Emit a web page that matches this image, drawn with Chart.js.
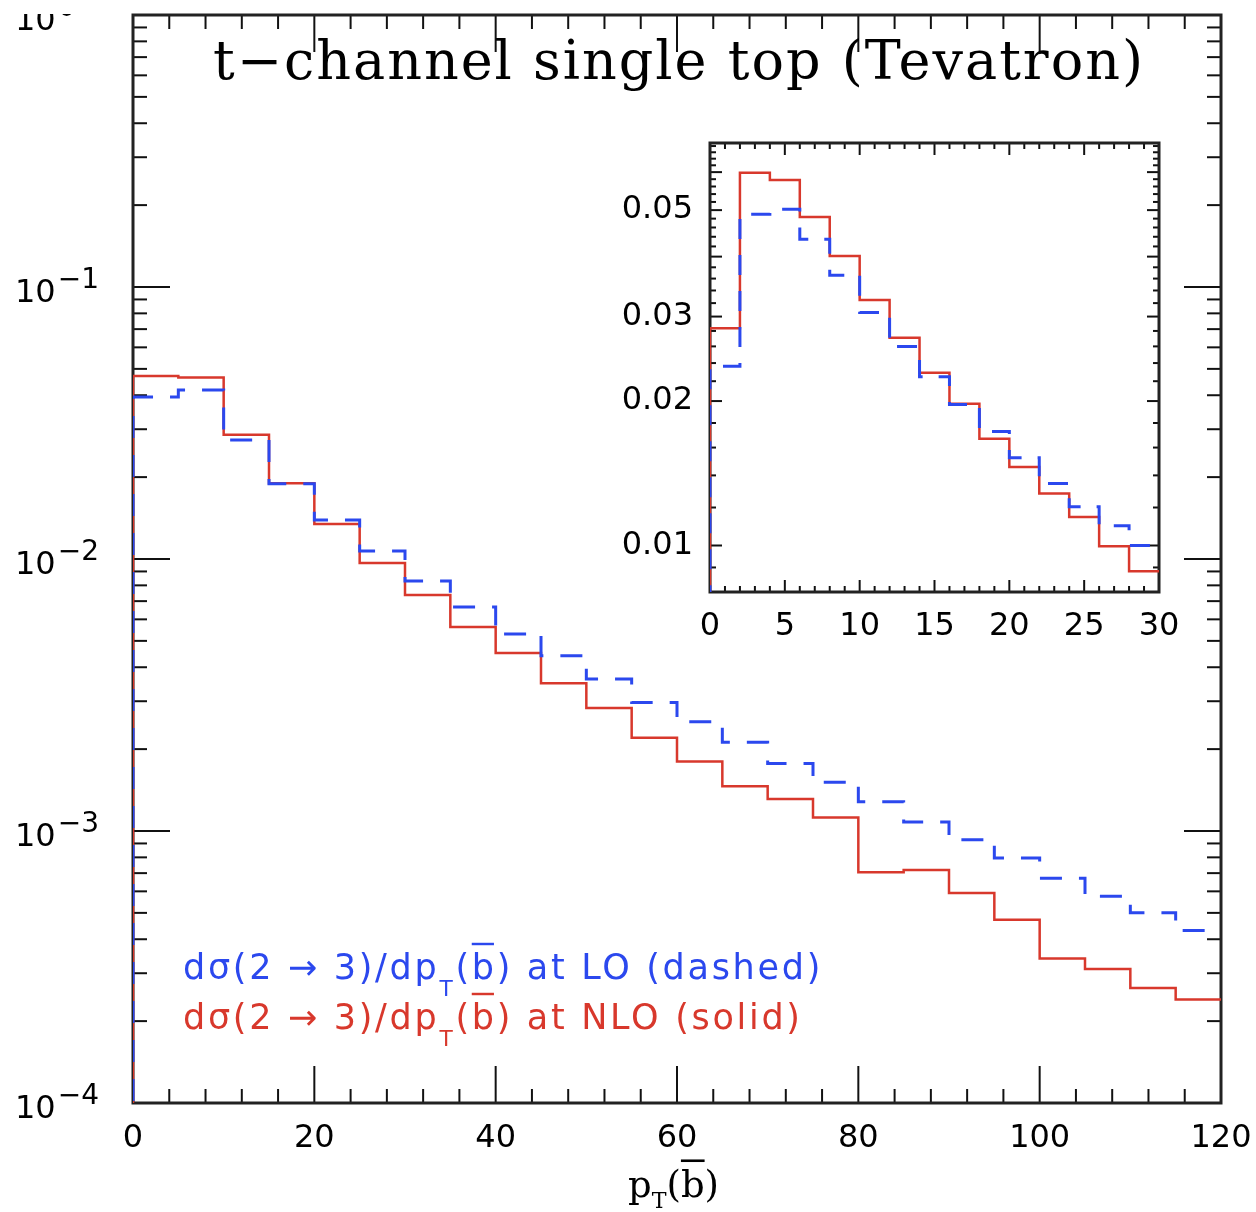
<!DOCTYPE html>
<html><head><meta charset="utf-8">
<script src="https://cdn.jsdelivr.net/npm/chart.js@4.4.1/dist/chart.umd.min.js"></script>
<style>
html,body{margin:0;padding:0;background:#fff;}
#wrap{position:relative;width:1256px;height:1212px;background:#fff;}
canvas{position:absolute;left:0;top:0;}
</style></head><body>
<div id="wrap"><canvas id="main" width="1256" height="1212"></canvas><canvas id="inset" width="1256" height="1212"></canvas></div>
<script>
// ---------------- data ----------------
const mainEdges = [0,5,10,15,20,25,30,35,40,45,50,55,60,65,70,75,80,85,90,95,100,105,110,115,120];
const mainLO  = [0.0394,0.0418,0.0274,0.0189,0.0139,0.0107,0.0083,0.00666,0.0053,0.00441,0.00362,0.00297,
                 0.00252,0.00212,0.00177,0.00151,0.00128,0.00108,0.000929,0.000795,0.000671,0.000576,0.000501,0.000431];
const mainNLO = [0.0471,0.0465,0.0286,0.0190,0.01346,0.00966,0.00738,0.00562,0.00451,0.00349,0.00283,0.00220,
                 0.00180,0.00146,0.00131,0.00112,0.000705,0.000719,0.000592,0.000472,0.000340,0.000311,0.000265,0.000240];
const insetEdges = [0,2,4,6,8,10,12,14,16,18,20,22,24,26,28,30];
const insetLO  = [0.02365,0.0490,0.0502,0.0435,0.0366,0.0306,0.0260,0.02247,0.01968,0.01729,0.01523,0.01347,0.01204,0.0110,0.0100];
const insetNLO = [0.02835,0.0598,0.0578,0.0484,0.0401,0.0325,0.0271,0.0229,0.01974,0.01669,0.01457,0.01284,0.01146,0.00997,0.00884];

const mainXTicks = [0,20,40,60,80,100,120];
const mainYDecades = [-4,-3,-2,-1,0];
const insetXTicks = [0,5,10,15,20,25,30];
const insetYTicks = [0.01,0.02,0.03,0.05];

const titleText = 't\u2212channel single top (Tevatron)';
const legendLO  = [{t:'d\u03C3(2 \u2192 3)/dp'},{t:'T',sub:true},{t:'('},{t:'b',over:true},{t:') at LO (dashed)'}];
const legendNLO = [{t:'d\u03C3(2 \u2192 3)/dp'},{t:'T',sub:true},{t:'('},{t:'b',over:true},{t:') at NLO (solid)'}];
const xTitle    = [{t:'p'},{t:'T',sub:true},{t:'('},{t:'b',over:true},{t:')'}];

const RED = '#d8382c', BLUE = '#2b48ee';
const SANS = 'DejaVu Sans', SERIF = 'DejaVu Serif';

// ---------------- helpers ----------------
function stepPoints(edges, vals, floor){
  const pts = [{x:edges[0], y:floor}];
  for (let i=0;i<vals.length;i++) pts.push({x:edges[i], y:vals[i]});
  pts.push({x:edges[vals.length], y:vals[vals.length-1]});
  return pts;
}
function richWidth(ctx, pieces, family, size, o){
  let w=0;
  for (const p of pieces){
    ctx.font = `${p.sub?size*o.subScale:size}px "${family}"`;
    ctx.letterSpacing = (o.ls||0)+'px';
    w += ctx.measureText(p.t).width;
  }
  ctx.letterSpacing='0px';
  return w;
}
function drawRich(ctx, x, y, pieces, family, size, color, o){
  let cx=x;
  ctx.fillStyle=color; ctx.strokeStyle=color; ctx.textBaseline='alphabetic'; ctx.textAlign='left';
  for (const p of pieces){
    const fs = p.sub ? size*o.subScale : size;
    ctx.font = `${fs}px "${family}"`;
    ctx.letterSpacing = (o.ls||0)+'px';
    ctx.fillText(p.t, cx, y + (p.sub ? size*o.subDy : 0));
    const w = ctx.measureText(p.t).width;
    if (p.over){
      ctx.lineWidth = Math.max(1.5, size*0.07);
      ctx.beginPath(); ctx.moveTo(cx, y-size*o.overDy); ctx.lineTo(cx+w-(o.ls||0), y-size*o.overDy); ctx.stroke();
    }
    cx += w;
  }
  ctx.letterSpacing='0px';
}
function makeFrame(cfg){
  return {
    id:'frame',
    beforeDraw(chart){
      if (cfg.whiteBg){
        const a=chart.chartArea, c=chart.ctx;
        c.save(); c.fillStyle='#fff'; c.fillRect(a.left,a.top,a.right-a.left,a.bottom-a.top); c.restore();
      }
    },
    beforeDatasetsDraw(chart){
      const c=chart.ctx, a=chart.chartArea, xs=chart.scales.x, ys=chart.scales.y;
      c.save();
      c.strokeStyle='#111'; c.lineWidth=cfg.tickWidth;
      const tick=(x1,y1,x2,y2)=>{c.beginPath();c.moveTo(x1,y1);c.lineTo(x2,y2);c.stroke();};
      for (const v of cfg.xMajor){ const px=xs.getPixelForValue(v); tick(px,a.bottom,px,a.bottom-cfg.majLen); tick(px,a.top,px,a.top+cfg.majLen); }
      for (const v of cfg.xMinor){ const px=xs.getPixelForValue(v); tick(px,a.bottom,px,a.bottom-cfg.minLen); tick(px,a.top,px,a.top+cfg.minLen); }
      for (const v of cfg.yMajor){ const py=ys.getPixelForValue(v); tick(a.left,py,a.left+cfg.majLen,py); tick(a.right,py,a.right-cfg.majLen,py); }
      for (const v of cfg.yMinor){ const py=ys.getPixelForValue(v); tick(a.left,py,a.left+cfg.minLen,py); tick(a.right,py,a.right-cfg.minLen,py); }
      c.strokeStyle='#222'; c.lineWidth=cfg.frameWidth;
      c.strokeRect(a.left,a.top,a.right-a.left,a.bottom-a.top);
      c.restore();
    }
  };
}
const noPad = s => { s.paddingLeft=0; s.paddingRight=0; };

// tick positions
const mainXMinor=[]; for (let v=4; v<120; v+=4) if (v%20) mainXMinor.push(v);
const mainYMajor = mainYDecades.map(d=>Math.pow(10,d));
const mainYMinor=[]; for (let d=-4; d<0; d++) for (let k=2;k<=9;k++) mainYMinor.push(k*Math.pow(10,d));
const insetXMinor=[]; for (let v=1; v<30; v++) if (v%5) insetXMinor.push(v);
const insetYMajor=[0.01,0.02,0.03,0.04,0.05,0.06];
const insetYMinor=[0.009]; for (let base=0.01; base<0.065; base+=0.01) for (let k=2;k<10;k+=2){ const v=+(base+k*0.001).toFixed(4); if (v<0.069) insetYMinor.push(v);}

// ---------------- main chart ----------------
const mainText = {
  id:'mainText',
  afterDraw(chart){
    const c=chart.ctx, a=chart.chartArea, ys=chart.scales.y;
    c.save();
    // y labels
    c.save(); c.beginPath(); c.rect(0,a.top-1,chart.width,chart.height); c.clip();
    c.fillStyle='#000'; c.textAlign='left'; c.textBaseline='alphabetic';
    for (const d of mainYDecades){
      const py=ys.getPixelForValue(Math.pow(10,d));
      c.font=`32px "${SANS}"`; c.fillText('10',15,py+15);
      const w=c.measureText('10').width;
      c.font=`28px "${SANS}"`; c.fillText(d===0?'0':'\u2212'+(-d),15+w+2,py+1);
    }
    c.restore();
    // title
    c.fillStyle='#000'; c.font=`54px "${SERIF}"`;
    c.letterSpacing='0px';
    const tw=c.measureText(titleText).width;
    const tls=(930-tw)/(titleText.length-1);
    c.letterSpacing=tls+'px';
    c.textAlign='left'; c.textBaseline='alphabetic';
    c.fillText(titleText,213,79);
    c.letterSpacing='0px';
    // legend
    const o={subScale:0.62, subDy:0.48, overDy:1.0, ls:0};
    const size=35;
    const lw=richWidth(c,legendLO,SANS,size,o);
    const nChars=legendLO.reduce((n,p)=>n+p.t.length,0);
    o.ls=(640-lw)/nChars;
    drawRich(c,183,979,legendLO,SANS,size,BLUE,o);
    drawRich(c,183,1029,legendNLO,SANS,size,RED,o);
    // x title
    drawRich(c,628,1197,xTitle,SERIF,37,'#000',{subScale:0.6, subDy:0.3, overDy:0.98, ls:0});
    c.restore();
  }
};

new Chart(document.getElementById('main'), {
  type:'line',
  data:{datasets:[
    {label:'LO (dashed)', data:stepPoints(mainEdges,mainLO,1e-6), borderColor:BLUE, borderWidth:3, borderDash:[22,17], stepped:'before', pointRadius:0, fill:false},
    {label:'NLO (solid)', data:stepPoints(mainEdges,mainNLO,1e-6), borderColor:RED, borderWidth:2.5, stepped:'before', pointRadius:0, fill:false}
  ]},
  options:{
    responsive:false, animation:false, devicePixelRatio:1,
    layout:{padding:{left:133, top:15, right:35, bottom:0}},
    plugins:{legend:{display:false}, tooltip:{enabled:false}, title:{display:false}},
    scales:{
      x:{type:'linear', min:0, max:120, grid:{display:false}, border:{display:false},
         ticks:{font:{family:SANS,size:32}, color:'#000', padding:8, autoSkip:false, maxRotation:0, minRotation:0},
         afterBuildTicks:s=>{s.ticks=mainXTicks.map(v=>({value:v}));},
         afterFit:s=>{s.height=109; noPad(s);}},
      y:{type:'logarithmic', min:1e-4, max:1, display:false}
    }
  },
  plugins:[makeFrame({xMajor:mainXTicks,xMinor:mainXMinor,yMajor:mainYMajor,yMinor:mainYMinor,majLen:37,minLen:14,tickWidth:2,frameWidth:3}), mainText]
});

// ---------------- inset chart ----------------
new Chart(document.getElementById('inset'), {
  type:'line',
  data:{datasets:[
    {label:'LO (dashed)', data:stepPoints(insetEdges,insetLO,1e-4), borderColor:BLUE, borderWidth:3, borderDash:[20,16], stepped:'before', pointRadius:0, fill:false},
    {label:'NLO (solid)', data:stepPoints(insetEdges,insetNLO,1e-4), borderColor:RED, borderWidth:2.5, stepped:'before', pointRadius:0, fill:false}
  ]},
  options:{
    responsive:false, animation:false, devicePixelRatio:1,
    layout:{padding:{left:610, top:143, right:97, bottom:560}},
    plugins:{legend:{display:false}, tooltip:{enabled:false}, title:{display:false}},
    scales:{
      x:{type:'linear', min:0, max:30, grid:{display:false}, border:{display:false},
         ticks:{font:{family:SANS,size:32}, color:'#000', padding:7, autoSkip:false, maxRotation:0, minRotation:0},
         afterBuildTicks:s=>{s.ticks=insetXTicks.map(v=>({value:v}));},
         afterFit:s=>{s.height=60; noPad(s);}},
      y:{type:'logarithmic', min:0.008, max:0.069, grid:{display:false}, border:{display:false},
         ticks:{font:{family:SANS,size:32}, color:'#000', padding:9, autoSkip:false, callback:v=>String(v)},
         afterBuildTicks:s=>{s.ticks=insetYTicks.map(v=>({value:v}));},
         afterFit:s=>{s.width=100;}}
    }
  },
  plugins:[makeFrame({xMajor:insetXTicks,xMinor:insetXMinor,yMajor:insetYMajor,yMinor:insetYMinor,majLen:12,minLen:6,tickWidth:2,frameWidth:3,whiteBg:true})]
});
</script>
</body></html>
